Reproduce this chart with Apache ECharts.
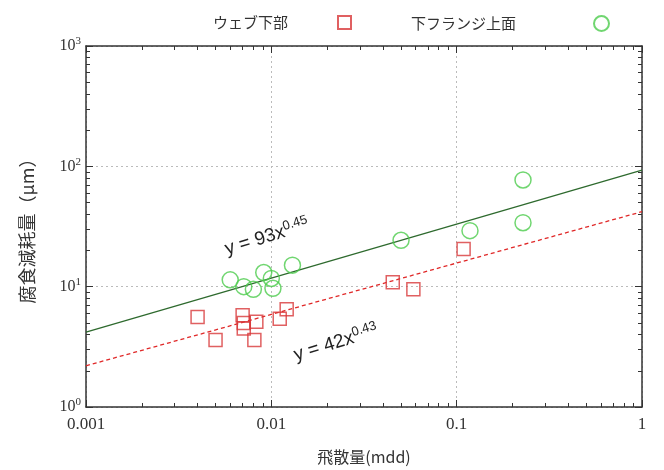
<!DOCTYPE html>
<html>
<head>
<meta charset="utf-8">
<script src="https://cdn.jsdelivr.net/npm/echarts@6/dist/echarts.min.js"></script>
<style>
html, body { margin: 0; padding: 0; background: #fff; }
#chart1 { width: 664px; height: 470px; }
</style>
</head>
<body>
<div id="chart1"></div>
<script>
// ウェブ下部
var webX = [0.0040, 0.0050, 0.0070, 0.0071, 0.0071, 0.0083, 0.0081, 0.0111, 0.0121, 0.0452, 0.0584, 0.109];
var webY = [5.6, 3.6, 5.8, 5.0, 4.5, 5.1, 3.6, 5.4, 6.5, 10.9, 9.5, 20.6];
// 下フランジ上面
var flangeX = [0.0060, 0.0071, 0.0080, 0.0091, 0.0100, 0.0102, 0.0130, 0.0501, 0.118, 0.228, 0.228];
var flangeY = [11.4, 10.0, 9.5, 13.1, 11.7, 9.7, 15.1, 24.3, 29.2, 77, 34];
// 近似線の両端
var fitWebX = [0.001, 1];
var fitWebY = [2.2, 42];
var fitFlangeX = [0.001, 1];
var fitFlangeY = [4.2, 93];
// 目盛
var xTicks = [0.001, 0.01, 0.1, 1];
var xTickLabels = ['0.001', '0.01', '0.1', '1'];
var yTicks = [1, 10, 100, 1000];
var yTickExp = ['0', '1', '2', '3'];

$init();

function zip (xs, ys) {
    return xs.map(function (x, i) { return [x, ys[i]]; });
}

// 目盛位置 (log10 空間)
function logMajors (majors) {
    return majors.map(function (v) { return Math.log10(v); });
}
function logMinors (majors) {
    var out = [];
    for (var i = 0; i < majors.length - 1; i++) {
        for (var k = 2; k <= 9; k++) out.push(Math.log10(majors[i] * k));
    }
    return out;
}

function $init () {
    var myChart = echarts.init(document.getElementById('chart1'));
    var jp = 'Noto Sans CJK JP';
    var num = 'Liberation Serif';
    var frame = { show: true, onZero: false, lineStyle: { color: '#333', width: 1.5 } };
    var noLine = { show: false, onZero: false };
    var grid = { type: [2, 3], color: '#bbb', width: 1 };

    // 目盛だけを描く補助軸 (value 軸, log10 空間)
    function tickAxis (pos, ticks, len, line) {
        var isX = pos === 'bottom' || pos === 'top';
        var m = isX ? xTicks : yTicks;
        return {
            type: 'value',
            min: Math.log10(m[0]),
            max: Math.log10(m[m.length - 1]),
            position: pos,
            axisLine: line ? frame : noLine,
            axisTick: { show: true, inside: true, length: len, customValues: ticks, lineStyle: { color: '#333', width: 1 } },
            axisLabel: { show: false },
            splitLine: { show: false }
        };
    }

    var option = {
        animation: false,
        grid: { left: 86, right: 22, top: 46, bottom: 63 },
        legend: [
            {
                data: ['ウェブ下部'],
                left: 208, top: 10,
                align: 'right',
                itemWidth: 13, itemHeight: 13,
                formatter: function (name) { return name + '{g|}'; },
                textStyle: { fontFamily: jp, fontSize: 15, color: '#333', rich: { g: { width: 45 } } }
            },
            {
                data: ['下フランジ上面'],
                left: 406, top: 10,
                align: 'right',
                itemWidth: 15, itemHeight: 15,
                formatter: function (name) { return name + '{g|}'; },
                textStyle: { fontFamily: jp, fontSize: 15, color: '#333', rich: { g: { width: 73 } } }
            }
        ],
        xAxis: [
            {
                type: 'log',
                logBase: 10,
                min: xTicks[0],
                max: xTicks[xTicks.length - 1],
                position: 'bottom',
                name: '飛散量(mdd)',
                nameLocation: 'middle',
                nameGap: 42,
                nameTextStyle: { fontFamily: jp, fontSize: 16, color: '#333' },
                axisLine: frame,
                axisTick: { show: false },
                axisLabel: {
                    margin: 9, customValues: xTicks,
                    fontFamily: num, fontSize: 17, color: '#333',
                    formatter: function (v) { return xTickLabels[xTicks.indexOf(v)] || String(v); }
                },
                splitLine: { show: true, lineStyle: grid }
            },
            tickAxis('bottom', logMajors(xTicks), 7, false),
            tickAxis('bottom', logMinors(xTicks), 4, false),
            tickAxis('top', logMajors(xTicks), 7, true),
            tickAxis('top', logMinors(xTicks), 4, false)
        ],
        yAxis: [
            {
                type: 'log',
                logBase: 10,
                min: yTicks[0],
                max: yTicks[yTicks.length - 1],
                position: 'left',
                name: '腐食減耗量（μm）',
                nameLocation: 'middle',
                nameGap: 50,
                nameRotate: 90,
                nameTextStyle: { fontFamily: jp, fontSize: 18, color: '#333' },
                axisLine: frame,
                axisTick: { show: false },
                axisLabel: {
                    margin: 5, customValues: yTicks,
                    formatter: function (v) {
                        var i = yTicks.indexOf(v);
                        return '{b|10}{s|' + (i >= 0 ? yTickExp[i] : '') + '}';
                    },
                    rich: {
                        b: { fontFamily: num, fontSize: 16, color: '#333' },
                        s: { fontFamily: num, fontSize: 11, color: '#333', padding: [0, 0, 9, 0] }
                    }
                },
                splitLine: { show: true, lineStyle: grid }
            },
            tickAxis('left', logMajors(yTicks), 7, false),
            tickAxis('left', logMinors(yTicks), 4, false),
            tickAxis('right', logMajors(yTicks), 7, true),
            tickAxis('right', logMinors(yTicks), 4, false)
        ],
        graphic: [
            {
                type: 'text', x: 267, y: 237, rotation: 0.3,
                style: {
                    text: '{m|y = 93x}{s|0.45}',
                    align: 'center', verticalAlign: 'middle',
                    rich: {
                        m: { fontFamily: 'Liberation Sans', fontSize: 19, fill: '#222' },
                        s: { fontFamily: 'Liberation Sans', fontSize: 13, fill: '#222', padding: [0, 0, 10, 0] }
                    }
                }
            },
            {
                type: 'text', x: 336, y: 343, rotation: 0.3,
                style: {
                    text: '{m|y = 42x}{s|0.43}',
                    align: 'center', verticalAlign: 'middle',
                    rich: {
                        m: { fontFamily: 'Liberation Sans', fontSize: 19, fill: '#222' },
                        s: { fontFamily: 'Liberation Sans', fontSize: 13, fill: '#222', padding: [0, 0, 10, 0] }
                    }
                }
            }
        ],
        series: [
            {
                name: 'ウェブ下部近似',
                type: 'line',
                data: zip(fitWebX, fitWebY),
                showSymbol: false,
                symbol: 'none',
                lineStyle: { color: '#e02828', width: 1.3, type: [4, 3] },
                z: 1
            },
            {
                name: '下フランジ上面近似',
                type: 'line',
                data: zip(fitFlangeX, fitFlangeY),
                showSymbol: false,
                symbol: 'none',
                lineStyle: { color: '#2e6a2e', width: 1.3 },
                z: 1
            },
            {
                name: 'ウェブ下部',
                type: 'scatter',
                symbol: 'rect',
                symbolSize: 13,
                data: zip(webX, webY),
                itemStyle: { color: 'rgba(255,255,255,0)', borderColor: '#d8383a', borderWidth: 1.5 },
                z: 3
            },
            {
                name: '下フランジ上面',
                type: 'scatter',
                symbol: 'circle',
                symbolSize: 16,
                data: zip(flangeX, flangeY),
                itemStyle: { color: 'rgba(255,255,255,0)', borderColor: '#4ccc4c', borderWidth: 1.5 },
                z: 3
            }
        ]
    };
    myChart.setOption(option);
    window.onresize = myChart.resize;
}
</script>
</body>
</html>
